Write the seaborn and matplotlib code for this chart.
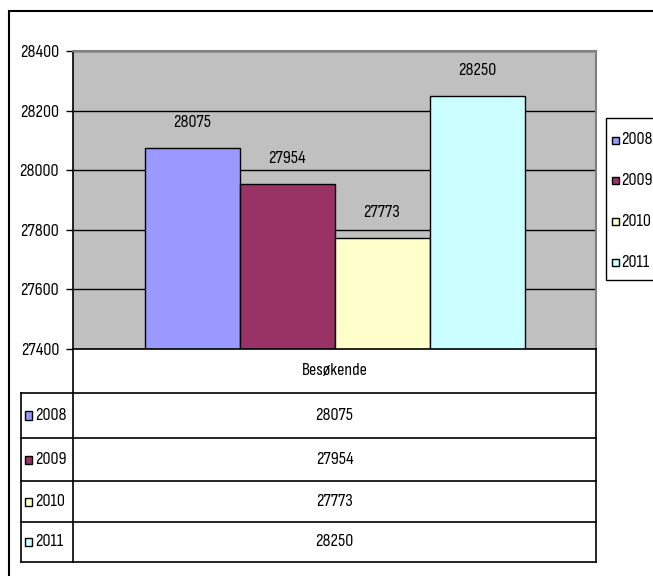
import matplotlib
matplotlib.use("Agg")
import matplotlib.pyplot as plt
from matplotlib.lines import Line2D
from matplotlib.patches import Rectangle
import seaborn as sns
import pandas as pd

# ---- data ----
kategori = ["Besøkende"]
aar = ["2008", "2009", "2010", "2011"]
besokende = [28075, 27954, 27773, 28250]
farger = ["#9999FF", "#993366", "#FFFFCC", "#CCFFFF"]
y_ticks = [27400, 27600, 27800, 28000, 28200, 28400]

df = pd.DataFrame({"kategori": kategori * len(aar), "år": aar, "verdi": besokende})

FONT = ["Sofia Sans Condensed", "Liberation Sans", "DejaVu Sans"]
plt.rcParams["font.family"] = FONT
FS = 13

W, H = 653, 576
fig = plt.figure(figsize=(W / 100, H / 100), dpi=100)
fig.patch.set_facecolor("white")


def fx(x):
    return x / W


def fy(y):
    return 1 - y / H


def rect(x0, y0, x1, y1, **kw):
    fig.add_artist(Rectangle((fx(x0), fy(y1)), fx(x1) - fx(x0), fy(y0) - fy(y1),
                             transform=fig.transFigure, **kw))


# outer chart border (extends past right/bottom edge)
rect(9, 11, 700, 600, fill=False, edgecolor="black", lw=1.5)

# main plot axes
L, R, T, B = 73, 596, 51, 349
ax = fig.add_axes([fx(L), fy(B), fx(R) - fx(L), fy(T) - fy(B)])
ax.set_facecolor("#C0C0C0")

sns.barplot(data=df, x="kategori", y="verdi", hue="år", palette=farger,
            width=380 / 523, edgecolor="black", linewidth=1.0, saturation=1,
            legend=False, ax=ax)

ax.set_ylim(y_ticks[0], y_ticks[-1])
ax.set_xlim(-0.5, 0.5)
ax.set_yticks(y_ticks)
ax.set_yticklabels([str(t) for t in y_ticks], fontsize=FS)
ax.set_xticks([])
ax.set_xlabel("")
ax.set_ylabel("")
ax.tick_params(axis="y", length=5, width=1, pad=5, color="black")
ax.yaxis.grid(True, color="black", lw=1)
ax.set_axisbelow(True)
for s in ["top", "right"]:
    ax.spines[s].set_color("#808080")
    ax.spines[s].set_linewidth(1.5)
for s in ["left", "bottom"]:
    ax.spines[s].set_color("black")
    ax.spines[s].set_linewidth(1.2)

for cont in ax.containers:
    ax.bar_label(cont, labels=[str(int(v)) for v in cont.datavalues],
                 padding=13, fontsize=FS)

# legend box (runs off the right edge like the original)
rect(606, 118, 700, 280, fill=True, facecolor="white", edgecolor="black", lw=1.0)
leg_y0, leg_dy = 140, 40.7
for i, (a, c) in enumerate(zip(aar, farger)):
    yc = leg_y0 + i * leg_dy
    rect(612, yc - 3.5, 619, yc + 3.5, facecolor=c, edgecolor="black", lw=1)
    fig.text(fx(621), fy(yc), a, ha="left", va="center", fontsize=FS)

# data table
TL, TR = 21, 596
rows = [393, 438, 481, 522, 562]


def line(x0, y0, x1, y1, lw=1.2, color="black"):
    fig.add_artist(Line2D([fx(x0), fx(x1)], [fy(y0), fy(y1)],
                          transform=fig.transFigure, color=color, lw=lw))


line(L, B, L, rows[-1])
line(R, B, R, rows[-1])
line(TL, rows[0], TL, rows[-1])
for r in rows:
    line(TL, r, R, r)

cx = (L + R) / 2
fig.text(fx(cx), fy((B + rows[0]) / 2), kategori[0], ha="center", va="center", fontsize=FS)
for i, (a, v, c) in enumerate(zip(aar, besokende, farger)):
    yc = (rows[i] + rows[i + 1]) / 2
    rect(25, yc - 4, 32, yc + 4, facecolor=c, edgecolor="black", lw=1)
    fig.text(fx(35), fy(yc), a, ha="left", va="center", fontsize=FS)
    fig.text(fx(cx), fy(yc), str(v), ha="center", va="center", fontsize=FS)

fig.savefig("out.png", dpi=100)
